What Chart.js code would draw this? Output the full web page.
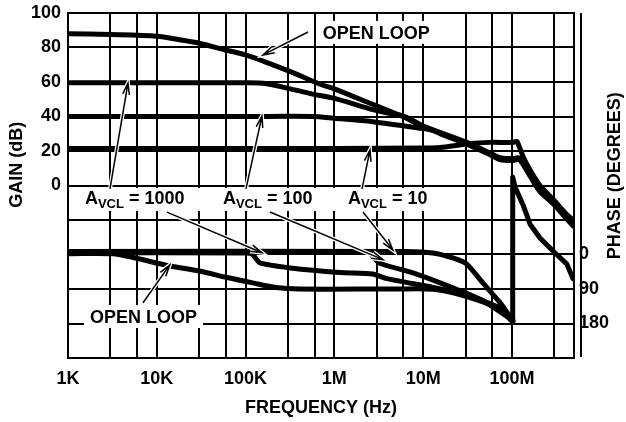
<!DOCTYPE html>
<html>
<head>
<meta charset="utf-8">
<script src="https://cdn.jsdelivr.net/npm/chart.js@4"></script>
<style>
  html, body { margin: 0; padding: 0; background: #fff; }
  #wrap { width: 626px; height: 422px; position: relative; }
</style>
</head>
<body>
<div id="wrap"><canvas id="chart"></canvas></div>
<script>
// frequency axis
const decades = [1e3, 1e4, 1e5, 1e6, 1e7, 1e8];
const decadeLabels = ['1K', '10K', '100K', '1M', '10M', '100M'];
const fMax = 5e8;
const gainTicks = [0, 20, 40, 60, 80, 100];
const phaseTicks = [0, 90, 180];

// gain (dB)
const olFreq = [1e3, 3e3, 1e4, 1.8e4, 3e4, 5.8e4, 1e5, 1.6e5, 3.2e5, 6.9e5, 1e6, 2.7e6, 6.2e6, 1e7, 1.55e7, 3.1e7, 5.6e7, 7.3e7, 1.03e8, 1.2e8, 1.4e8, 1.6e8, 2.07e8, 2.9e8, 4.16e8, 4.9e8];
const olGain = [88, 87.5, 86.5, 84.5, 82.5, 78.7, 75.7, 72, 66, 58.7, 56, 47, 39.5, 34, 30.5, 24.5, 18.5, 15.6, 15, 15.5, 11, 6, -3, -10, -19, -23];

const a1000Freq = [1e3, 1e4, 1e5, 1.72e5, 3.2e5, 5.7e5, 1e6, 2.7e6, 4e6, 6.2e6, 1e7, 3.1e7, 5.6e7, 7.3e7, 1.03e8, 1.2e8, 1.4e8, 1.6e8, 2.07e8, 2.9e8, 4.16e8, 4.9e8];
const a1000Gain = [59.5, 59.5, 59.5, 59, 56, 53, 50.5, 44, 42, 40, 34.5, 25, 19, 16.2, 15.6, 16, 11.5, 6.5, -2.5, -9.5, -18.5, -22.5];

const a100Freq = [1e3, 1e5, 5.7e5, 1e6, 2.7e6, 1e7, 1.3e7, 1.55e7, 3.1e7, 5.6e7, 7.3e7, 1.03e8, 1.2e8, 1.4e8, 1.6e8, 2.07e8, 2.9e8, 4.16e8, 4.9e8];
const a100Gain = [40, 40, 40, 39, 37, 33, 32, 30, 24, 18, 15, 14.5, 15, 10.5, 5.5, -3.5, -10.5, -19.5, -23.5];

const a10Freq = [1e3, 1e6, 1e7, 1.55e7, 3.37e7, 5.6e7, 1.03e8, 1.14e8, 1.33e8, 1.6e8, 2.07e8, 2.9e8, 4.16e8, 4.86e8];
const a10Gain = [21.5, 21.5, 21.7, 22, 24.3, 25, 25, 25.5, 17, 9, 0, -8, -17, -20];

// phase (degrees)
const olPhFreq = [1e3, 3.2e3, 5e3, 1.4e4, 3e4, 6.2e4, 1.2e5, 2.2e5, 4e5, 5e6, 1.3e7, 3.1e7, 7.3e7, 1.02e8];
const olPh = [-2, -2, 6, 30, 43, 60, 74, 86, 90, 90, 91, 110, 143, 176];

const a1000PhFreq = [1e3, 1e5, 1.2e5, 1.45e5, 3.2e5, 1.16e6, 2.7e6, 3.9e6, 1.29e7, 3.1e7, 7.3e7, 1.02e8];
const a1000Ph = [-4, -4, 0, 22, 35, 47, 51, 63, 86, 106, 140, 174];

const a100PhFreq = [1e3, 2.4e6, 3.2e6, 7.7e6, 2.16e7, 4.7e7, 1.02e8];
const a100Ph = [-5, -5, 22, 48, 87, 120, 172];

const a10PhFreq = [1e3, 6.6e6, 1.29e7, 2.16e7, 3.1e7, 4.7e7, 7.3e7, 1.02e8];
const a10Ph = [-8, -8, -4, 9, 25, 74, 125, 172];

const a10WrapFreq = [1.02e8, 1.02e8, 1.08e8, 1.33e8, 1.6e8, 2.07e8, 2.9e8, 4.16e8, 4.86e8];
const a10Wrap = [172, -202, -177, -130, -79, -43, -9, 25, 63];

// callouts, anchored at text start / baseline in (Hz, dB)
const callouts = [
  { main: 'OPEN LOOP', f: 7.4e5, db: 85 },
  { main: 'A', sub: 'VCL', rest: ' = 1000', f: 1.55e3, db: -10.7 },
  { main: 'A', sub: 'VCL', rest: ' = 100', f: 5.56e4, db: -10.7 },
  { main: 'A', sub: 'VCL', rest: ' = 10', f: 1.42e6, db: -10.7 },
  { main: 'OPEN LOOP', f: 1.77e3, db: -79.7 }
];
// arrows: from (Hz, dB) to tip (Hz, dB)
const arrows = [
  [5.05e5, 89, 1.57e5, 75.7],
  [2.97e3, -2, 4.74e3, 59.4],
  [1.3e4, -15.4, 1.53e5, -39],
  [1.01e5, -2, 1.53e5, 40.3],
  [1.88e5, -15.4, 3.53e6, -43],
  [2.05e6, -2, 2.52e6, 20.6],
  [2.1e6, -15.4, 4.57e6, -37.4],
  [7e3, -68, 1.4e4, -46]
];

const gridFreqs = [];
decades.forEach(d => gridFreqs.push(d, 3 * d, 6 * d));
gridFreqs.push(fMax);

const family = '"Liberation Sans", Arial, sans-serif';
const tickFont = { family: family, size: 18, weight: 'bold' };
const labelFont = 'bold 18px ' + family;
const subFont = 'bold 13px ' + family;

function series(freqs, vals, axis, tension) {
  return {
    data: freqs.map((f, i) => ({ x: f, y: vals[i] })),
    yAxisID: axis,
    borderColor: '#000',
    borderWidth: 5,
    pointRadius: 0,
    tension: tension,
    borderCapStyle: 'round',
    borderJoinStyle: 'round',
    fill: false
  };
}

// stop tick labels from pushing the plot area around
function fixBox(size) {
  return s => {
    if (s.isHorizontal()) s.height = size; else s.width = size;
    s.paddingTop = 0;
    s.paddingBottom = 0;
    s.paddingLeft = 0;
    s.paddingRight = 0;
  };
}

function measure(ctx, c) {
  ctx.font = labelFont;
  let w = ctx.measureText(c.main).width;
  if (c.sub) {
    ctx.font = subFont;
    w += ctx.measureText(c.sub).width;
    ctx.font = labelFont;
    w += ctx.measureText(c.rest).width;
  }
  return w;
}

function drawArrow(ctx, x1, y1, x2, y2) {
  const a = Math.atan2(y2 - y1, x2 - x1);
  const len = 12, spread = 0.28;
  const path = () => {
    ctx.beginPath();
    ctx.moveTo(x1, y1);
    ctx.lineTo(x2, y2);
    ctx.moveTo(x2 - len * Math.cos(a - spread), y2 - len * Math.sin(a - spread));
    ctx.lineTo(x2, y2);
    ctx.lineTo(x2 - len * Math.cos(a + spread), y2 - len * Math.sin(a + spread));
  };
  ctx.strokeStyle = '#fff';
  ctx.lineWidth = 4;
  path();
  ctx.stroke();
  ctx.strokeStyle = '#000';
  ctx.lineWidth = 1.5;
  path();
  ctx.stroke();
}

const decor = {
  id: 'decor',
  beforeDraw(chart) {
    const ctx = chart.ctx;
    ctx.save();
    ctx.fillStyle = '#fff';
    ctx.fillRect(0, 0, chart.width, chart.height);
    ctx.restore();
  },
  beforeDatasetsDraw(chart) {
    const ctx = chart.ctx, sx = chart.scales.x, sy = chart.scales.y;
    ctx.save();
    ctx.fillStyle = '#fff';
    const vcl = callouts.filter(c => c.sub);
    callouts.filter(c => !c.sub).forEach(c => {
      const x = sx.getPixelForValue(c.f), y = sy.getPixelForValue(c.db);
      const w = measure(ctx, c);
      ctx.fillRect(x - 6, y - 18, w + 12, 23);
    });
    const first = vcl[0], last = vcl[vcl.length - 1];
    const x0 = sx.getPixelForValue(first.f) - 10;
    const x1 = sx.getPixelForValue(last.f) + measure(ctx, last) + 8;
    const yb = sy.getPixelForValue(first.db);
    ctx.fillRect(x0, yb - 16, x1 - x0, 23);
    ctx.restore();
  },
  afterDatasetsDraw(chart) {
    const ctx = chart.ctx, sx = chart.scales.x, sy = chart.scales.y;
    const area = chart.chartArea;
    ctx.save();
    arrows.forEach(a => {
      drawArrow(ctx, sx.getPixelForValue(a[0]), sy.getPixelForValue(a[1]),
        sx.getPixelForValue(a[2]), sy.getPixelForValue(a[3]));
    });
    ctx.fillStyle = '#000';
    ctx.textBaseline = 'alphabetic';
    ctx.textAlign = 'left';
    callouts.forEach(c => {
      let x = sx.getPixelForValue(c.f);
      const y = sy.getPixelForValue(c.db);
      ctx.font = labelFont;
      ctx.fillText(c.main, x, y);
      x += ctx.measureText(c.main).width;
      if (c.sub) {
        ctx.font = subFont;
        ctx.fillText(c.sub, x, y + 4);
        x += ctx.measureText(c.sub).width;
        ctx.font = labelFont;
        ctx.fillText(c.rest, x, y);
      }
    });
    // axis titles, both read bottom to top
    ctx.font = labelFont;
    ctx.textAlign = 'center';
    ctx.textBaseline = 'middle';
    const h = area.bottom - area.top;
    [['GAIN (dB)', 17, 0.44], ['PHASE (DEGREES)', 615, 0.472]].forEach(t => {
      ctx.save();
      ctx.translate(t[1], area.top + t[2] * h);
      ctx.rotate(-Math.PI / 2);
      ctx.fillText(t[0], 0, 0);
      ctx.restore();
    });
    ctx.restore();
  }
};

new Chart(document.getElementById('chart'), {
  type: 'line',
  data: {
    datasets: [
      series(olFreq, olGain, 'y', 0.3),
      series(a1000Freq, a1000Gain, 'y', 0.3),
      series(a100Freq, a100Gain, 'y', 0.3),
      series(a10Freq, a10Gain, 'y', 0.2),
      series(olPhFreq, olPh, 'yP', 0.3),
      series(a1000PhFreq, a1000Ph, 'yP', 0.2),
      series(a100PhFreq, a100Ph, 'yP', 0.2),
      series(a10PhFreq, a10Ph, 'yP', 0.2),
      series(a10WrapFreq, a10Wrap, 'yP', 0)
    ]
  },
  options: {
    responsive: true,
    maintainAspectRatio: false,
    animation: false,
    layout: { padding: { top: 13, left: 0, right: 0, bottom: 0 } },
    plugins: { legend: { display: false }, tooltip: { enabled: false } },
    scales: {
      x: {
        type: 'logarithmic',
        min: 1e3,
        max: fMax,
        afterBuildTicks: s => { s.ticks = gridFreqs.map(v => ({ value: v })); },
        afterFit: fixBox(64),
        grid: { color: '#000', lineWidth: 2, drawTicks: false },
        border: { color: '#000', width: 2 },
        ticks: {
          autoSkip: false, maxRotation: 0, padding: 10, color: '#000', font: tickFont,
          callback: v => { const i = decades.indexOf(v); return i < 0 ? '' : decadeLabels[i]; }
        },
        title: { display: true, text: 'FREQUENCY (Hz)', color: '#000', font: tickFont, padding: { top: 0, bottom: 3 } }
      },
      y: {
        min: -100,
        max: 100,
        afterFit: fixBox(68),
        grid: { color: '#000', lineWidth: 2, drawTicks: false },
        border: { color: '#000', width: 2 },
        ticks: {
          stepSize: 20, autoSkip: false, padding: 7, color: '#000', font: tickFont,
          callback: v => gainTicks.includes(v) ? v : ''
        }
      },
      yP: {
        position: 'right',
        min: -630,
        max: 270,
        reverse: true,
        afterFit: fixBox(52),
        grid: { drawOnChartArea: false, drawTicks: false },
        border: { color: '#000', width: 2 },
        ticks: {
          stepSize: 90, autoSkip: false, padding: 5, color: '#000', font: tickFont,
          callback: v => phaseTicks.includes(v) ? v : ''
        }
      }
    }
  },
  plugins: [decor]
});
</script>
</body>
</html>
